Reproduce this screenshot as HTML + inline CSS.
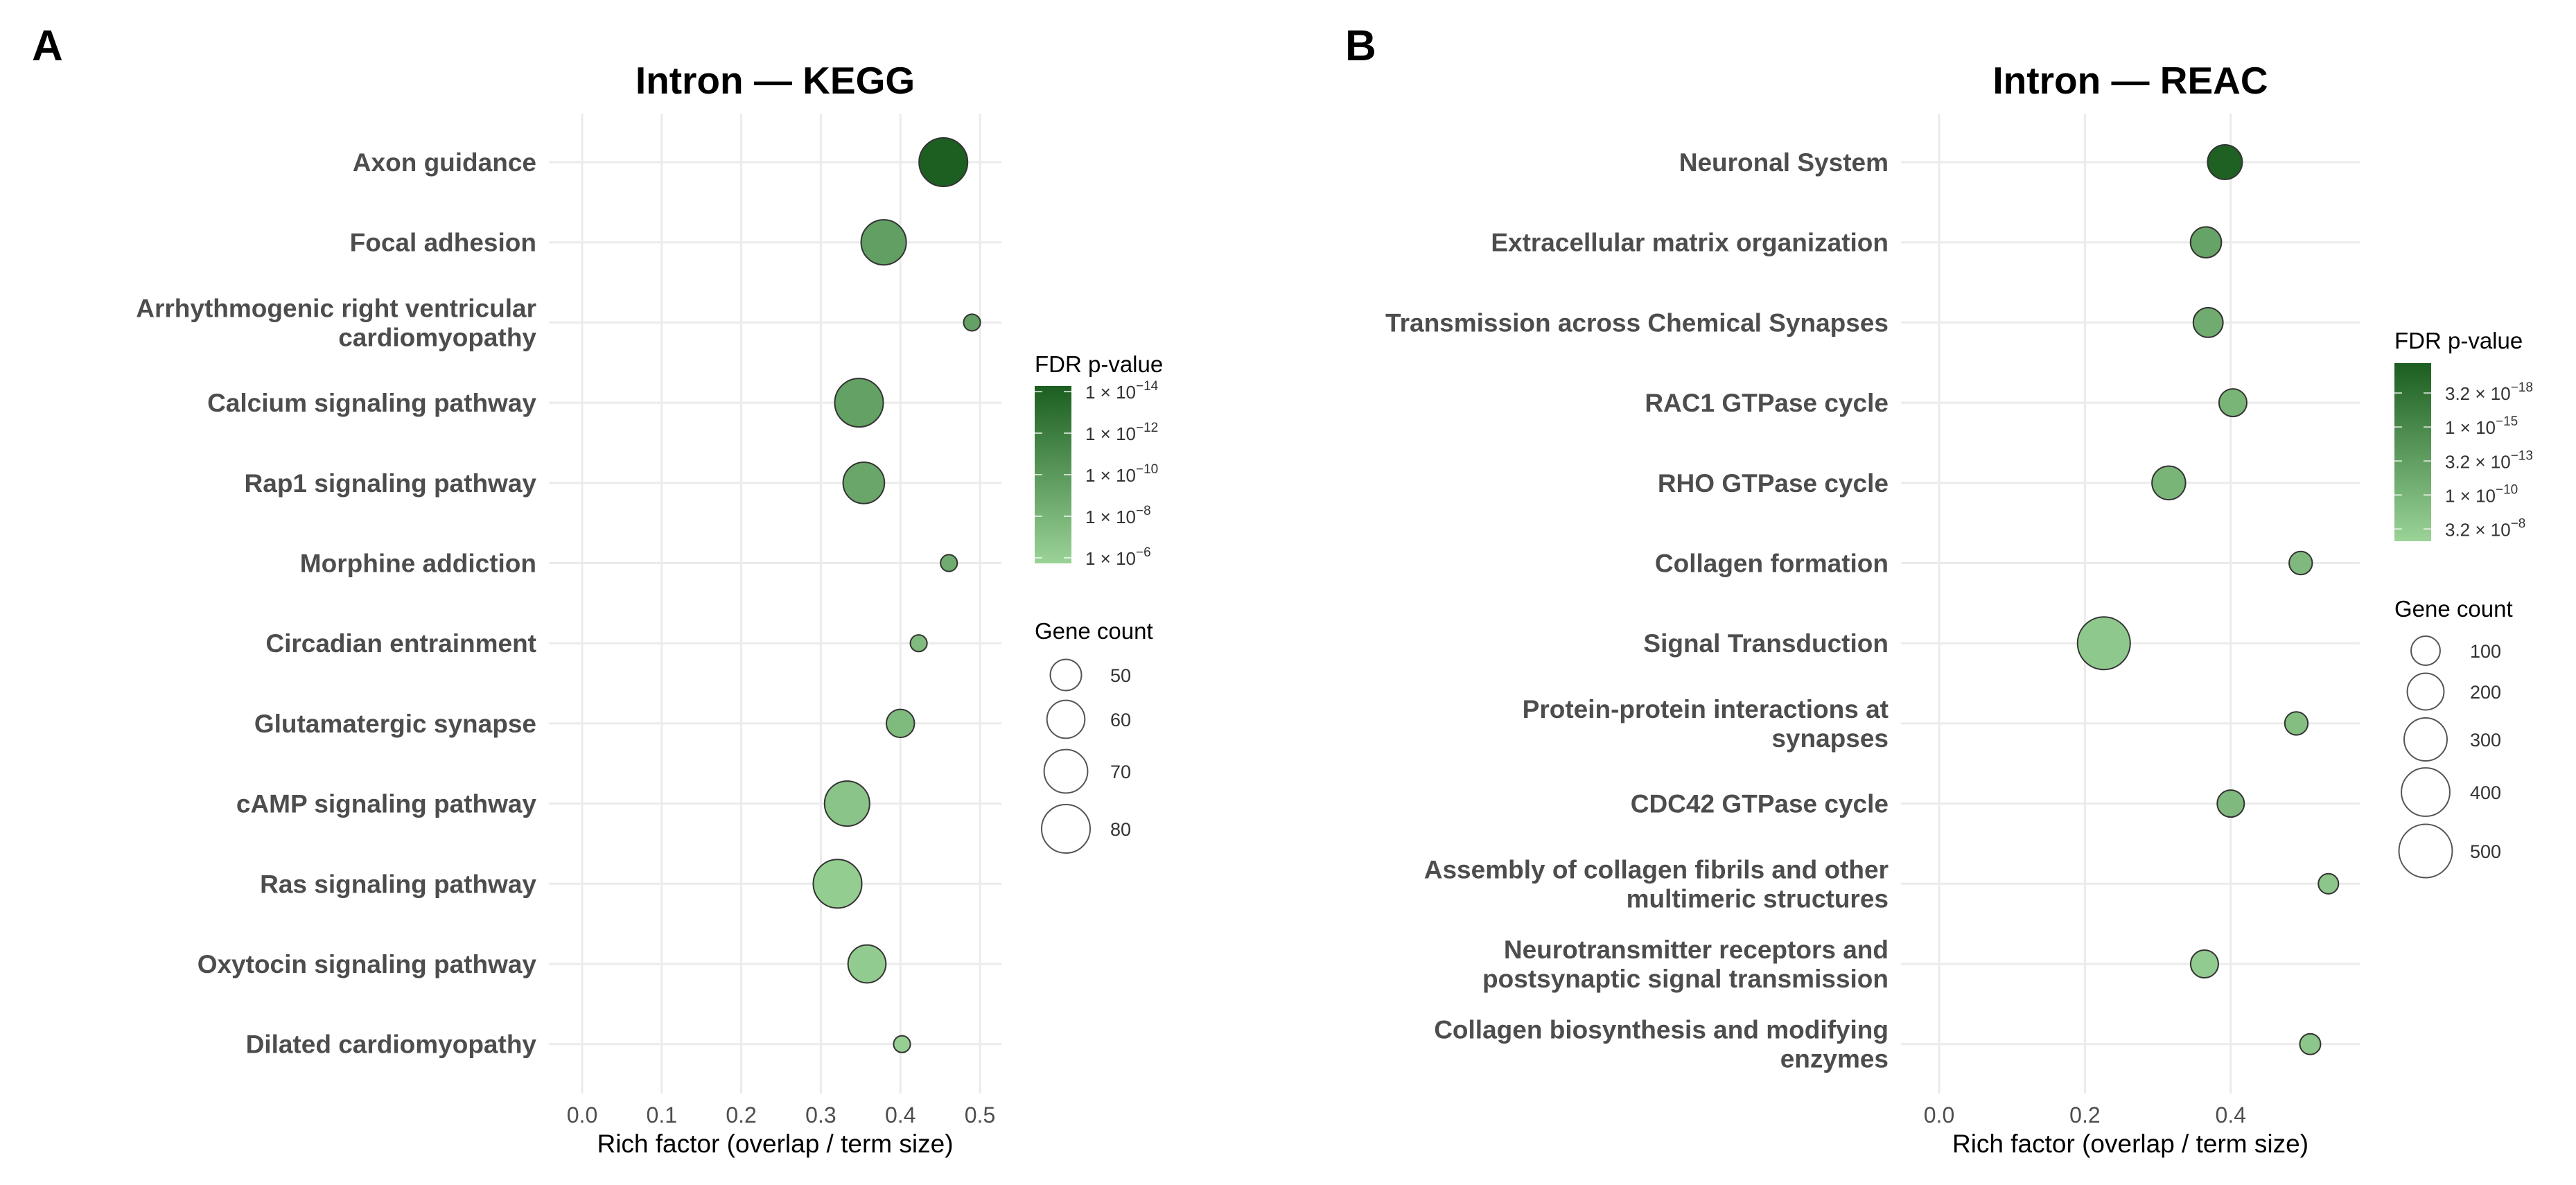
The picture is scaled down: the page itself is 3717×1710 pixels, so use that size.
<!DOCTYPE html>
<html><head><meta charset="utf-8"><style>
html,body{margin:0;padding:0;background:#fff;}
svg{display:block;font-family:"Liberation Sans",Arial,sans-serif;}
</style></head><body>
<svg id="fig" width="3717" height="1710" viewBox="0 0 3717 1710" xmlns="http://www.w3.org/2000/svg">
<rect width="3717" height="1710" fill="#fff"/>
<text x="46" y="87" font-size="62" font-weight="bold">A</text>
<text x="1941" y="87" font-size="62" font-weight="bold">B</text>
</svg>
<script>
// ---- Panel A data (KEGG) ----
const keggTerms = [["Axon guidance"],["Focal adhesion"],["Arrhythmogenic right ventricular","cardiomyopathy"],["Calcium signaling pathway"],["Rap1 signaling pathway"],["Morphine addiction"],["Circadian entrainment"],["Glutamatergic synapse"],["cAMP signaling pathway"],["Ras signaling pathway"],["Oxytocin signaling pathway"],["Dilated cardiomyopathy"]];
const keggRich = [0.454, 0.379, 0.490, 0.348, 0.354, 0.461, 0.423, 0.400, 0.333, 0.321, 0.358, 0.402];
const keggCount = [80, 73, 35, 80, 66, 35, 35, 46, 73, 80, 60, 35];
const keggLogFdr = [-14.2, -9.5, -9.4, -9.4, -9.0, -8.6, -7.5, -7.5, -6.8, -6.2, -6.3, -6.0];
const keggXTicks = [0, 0.1, 0.2, 0.3, 0.4, 0.5];
const keggXTickLabels = ["0.0","0.1","0.2","0.3","0.4","0.5"];
const keggColorTicks = [-14, -12, -10, -8, -6];
const keggColorTickMant = ["1","1","1","1","1"];
const keggColorTickExp = ["14","12","10","8","6"];
const keggSizeBreaks = [50, 60, 70, 80];

// ---- Panel B data (REAC) ----
const reacTerms = [["Neuronal System"],["Extracellular matrix organization"],["Transmission across Chemical Synapses"],["RAC1 GTPase cycle"],["RHO GTPase cycle"],["Collagen formation"],["Signal Transduction"],["Protein-protein interactions at","synapses"],["CDC42 GTPase cycle"],["Assembly of collagen fibrils and other","multimeric structures"],["Neurotransmitter receptors and","postsynaptic signal transmission"],["Collagen biosynthesis and modifying","enzymes"]];
const reacRich = [0.392, 0.366, 0.369, 0.403, 0.315, 0.496, 0.226, 0.490, 0.400, 0.534, 0.364, 0.509];
const reacCount = [171, 122, 107, 85, 156, 38, 486, 38, 77, 12, 85, 17];
const reacLogFdr = [-19.4, -12.0, -11.0, -10.0, -10.0, -9.5, -7.8, -9.0, -9.5, -8.0, -7.5, -8.0];
const reacXTicks = [0, 0.2, 0.4];
const reacXTickLabels = ["0.0","0.2","0.4"];
const reacColorTicks = [-17.5, -15, -12.5, -10, -7.5];
const reacColorTickMant = ["3.2","1","3.2","1","3.2"];
const reacColorTickExp = ["18","15","13","10","8"];
const reacSizeBreaks = [100, 200, 300, 400, 500];

const NS = "http://www.w3.org/2000/svg";
const svg = document.getElementById("fig");
function mk(tag, attrs, parent){const e=document.createElementNS(NS,tag);for(const k in attrs)e.setAttribute(k,attrs[k]);(parent||svg).appendChild(e);return e;}
const LIGHT=[0x9b,0xd3,0x97], DARK=[0x1b,0x5e,0x20];
function colorAt(t){t=Math.max(0,Math.min(1,t));const c=LIGHT.map((l,i)=>Math.round(l+(DARK[i]-l)*t));return "rgb("+c.join(",")+")";}

function drawPanel(cfg){
  const g = mk("g",{});
  
  
  const xScale = v => cfg.x0 + v*cfg.xUnit;
  const yScale = i => 234 + i*115.7;
  const top=164, bottom=1578;
  const ti = mk("text",{x:(cfg.left+cfg.right)/2,y:135,"font-size":55,"font-weight":"bold","text-anchor":"middle",fill:"#000"},g);
  ti.textContent = cfg.title;
  
  
  cfg.xTicks.forEach((v,i)=>{
    const l = mk("line",{x1:xScale(v),x2:xScale(v),y1:top,y2:bottom,stroke:"#ebebeb","stroke-width":3},g);
    
    
    const t = mk("text",{x:xScale(v),y:1620,"font-size":32,"text-anchor":"middle",fill:"#4d4d4d"},g);
    t.textContent = cfg.xTickLabels[i];
    
    
  });
  cfg.terms.forEach((lines,i)=>{
    const y = yScale(i);
    const l = mk("line",{x1:cfg.left,x2:cfg.right,y1:y,y2:y,stroke:"#ebebeb","stroke-width":3},g);
    
    
    const t = mk("text",{x:cfg.left-18,y:y+13-(lines.length-1)*21,"font-size":37,"font-weight":"bold","text-anchor":"end",fill:"#4d4d4d"},g);
    lines.forEach((s,j)=>{const sp=mk("tspan",{x:cfg.left-18,dy:j?42:0},t);sp.textContent=s;});
    
    
  });
  cfg.rich.forEach((v,i)=>{
    const r = Math.sqrt(Math.max(100, cfg.rA + cfg.rB*cfg.count[i]));
    const t = (cfg.logFdr[i]-cfg.cLight)/(cfg.cDark-cfg.cLight);
    const c = mk("circle",{cx:xScale(v),cy:yScale(i),r:r,fill:colorAt(t),stroke:"#333","stroke-width":2},g);
    
    
  });
  const xt = mk("text",{x:(cfg.left+cfg.right)/2,y:1663,"font-size":37,"text-anchor":"middle",fill:"#000"},g);
  xt.textContent = "Rich factor (overlap / term size)";
  
  
  const L = cfg.legend;
  const lt = mk("text",{x:L.x,y:L.titleY,"font-size":33,fill:"#000"},g);
  lt.textContent = "FDR p-value";
  
  
  const gid = cfg.name+"-grad";
  const defs = mk("defs",{},g);
  const lg = mk("linearGradient",{id:gid,x1:0,y1:0,x2:0,y2:1},defs);
  mk("stop",{offset:"0",["stop-color"]:colorAt(1)},lg);
  mk("stop",{offset:"1",["stop-color"]:colorAt(0)},lg);
  const bar = mk("rect",{x:L.x,y:L.barTop,width:53,height:L.barBot-L.barTop,fill:"url(#"+gid+")"},g);
  
  
  const cy = v => L.barBot - (v-cfg.cLight)/(cfg.cDark-cfg.cLight)*(L.barBot-L.barTop);
  cfg.cTicks.forEach((v,i)=>{
    const y = cy(v);
    mk("line",{x1:L.x,x2:L.x+11,y1:y,y2:y,stroke:"#fff","stroke-width":2,opacity:0.7},g);
    mk("line",{x1:L.x+42,x2:L.x+53,y1:y,y2:y,stroke:"#fff","stroke-width":2,opacity:0.7},g);
    const t = mk("text",{x:L.x+73,y:y+10,"font-size":26,fill:"#333"},g);
    const a = mk("tspan",{},t); a.textContent = cfg.cMant[i]+" \u00d7 10";
    const b = mk("tspan",{dy:-12,"font-size":19},t); b.textContent = "\u2212"+cfg.cExp[i];
    
    
  });
  const st = mk("text",{x:L.x,y:L.sizeTitleY,"font-size":33,fill:"#000"},g);
  st.textContent = "Gene count";
  
  
  cfg.sizeBreaks.forEach((c,i)=>{
    const r = Math.sqrt(Math.max(100, cfg.rA + cfg.rB*c));
    const ci = mk("circle",{cx:L.circX,cy:L.sizeYs[i],r:r,fill:"none",stroke:"#555","stroke-width":2},g);
    
    
    const t = mk("text",{x:L.circX+64,y:L.sizeYs[i]+10,"font-size":27,fill:"#333"},g);
    t.textContent = String(c);
    
    
  });
}

drawPanel({name:"kegg-panel", title:"Intron \u2014 KEGG", terms:keggTerms, rich:keggRich, count:keggCount, logFdr:keggLogFdr,
  xTicks:keggXTicks, xTickLabels:keggXTickLabels, x0:840, xUnit:1148, left:792, right:1445,
  rA:-694, rB:24, cLight:-5.73, cDark:-14.27, cTicks:keggColorTicks, cMant:keggColorTickMant, cExp:keggColorTickExp,
  sizeBreaks:keggSizeBreaks,
  legend:{x:1493, titleY:537, barTop:557, barBot:813, sizeTitleY:922, circX:1538, sizeYs:[974,1038,1113,1196]}});

drawPanel({name:"reac-panel", title:"Intron \u2014 REAC", terms:reacTerms, rich:reacRich, count:reacCount, logFdr:reacLogFdr,
  xTicks:reacXTicks, xTickLabels:reacXTickLabels, x0:2798, xUnit:1052, left:2743, right:3405,
  rA:180, rB:2.6, cLight:-6.6, cDark:-19.7, cTicks:reacColorTicks, cMant:reacColorTickMant, cExp:reacColorTickExp,
  sizeBreaks:reacSizeBreaks,
  legend:{x:3455, titleY:503, barTop:524, barBot:781, sizeTitleY:890, circX:3500, sizeYs:[939,998,1067,1143,1228]}});
</script>
</body></html>
